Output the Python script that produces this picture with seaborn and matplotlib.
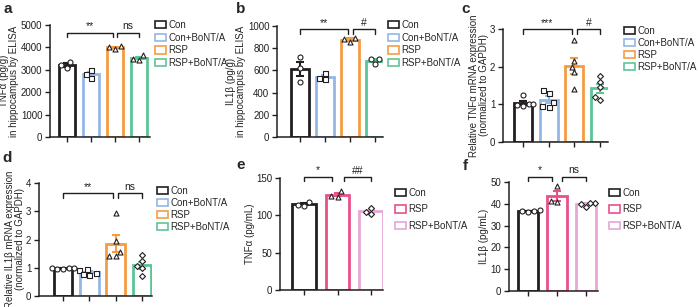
import numpy as np
import pandas as pd
import seaborn as sns
import matplotlib
matplotlib.use("Agg")
import matplotlib.pyplot as plt
from matplotlib.patches import Patch

groups4 = ['Con', 'Con+BoNT/A', 'RSP', 'RSP+BoNT/A']
groups3 = ['Con', 'RSP', 'RSP+BoNT/A']
colors4 = ['#231f20', '#93b8e6', '#f59c43', '#5cc597']
colors3 = ['#231f20', '#e8508a', '#e6a7d6']

# panel a: TNFa ELISA (pg/g)
a_vals = [[3100, 3350, 3200], [3000, 2800, 2650], [3950, 4050, 4000], [3450, 3650, 3500]]
# panel b: IL1b ELISA (pg/g)
b_vals = [[720, 620, 500], [520, 580, 535], [860, 890, 885], [700, 660, 700]]
# panel c: TNFa mRNA
c_vals = [[1.25, 1.0, 0.97, 0.95, 1.0], [1.38, 1.3, 0.95, 0.92, 1.05],
          [2.7, 2.15, 2.0, 1.85, 1.4], [1.75, 1.6, 1.45, 1.2, 1.12]]
# panel d: IL1b mRNA
d_vals = [[1.0, 0.98, 0.97, 1.0, 0.95], [0.95, 0.93, 0.78, 0.75, 0.8],
          [2.95, 1.95, 1.55, 1.4, 1.4], [1.45, 1.25, 1.05, 1.0, 0.7]]
# panel e: TNFa (pg/mL)
e_vals = [[118, 114, 113], [132, 125, 126], [110, 102, 104]]
# panel f: IL1b (pg/mL)
f_vals = [[36.4, 36.8, 37.0, 36.9], [48, 41, 41.5], [40.5, 39.8, 38.5, 40.3]]

sns.set_style('ticks')
plt.rcParams['font.family'] = ['Liberation Sans', 'DejaVu Sans']
plt.rcParams['font.size'] = 7
dark = '#231f20'

W, H = 698, 307
fig = plt.figure(figsize=(W / 100, H / 100), dpi=100)


def place(left, right, zero, top):
    return [left / W, 1 - zero / H, (right - left) / W, (zero - top) / H]


def bracket(ax, x1, x2, yf, text):
    y0, y1 = ax.get_ylim()
    y = y1 * yf
    h = (y1 - y0) * 0.04
    ax.plot([x1, x1, x2, x2], [y - h, y, y, y - h], color=dark, lw=1, clip_on=False)
    ax.text((x1 + x2) / 2, y + h * 0.3, text, ha='center', va='bottom',
            fontsize=7.5, color=dark)


def panel(rect, groups, colors, vals, markers, yticks, ylabel, xlim, letter,
          letter_xy, leg_xy, leg_space, brackets):
    ax = fig.add_axes(place(*rect))
    df = pd.DataFrame({'group': [g for g, v in zip(groups, vals) for _ in v],
                       'value': [x for v in vals for x in v]})
    pal = dict(zip(groups, colors))
    sns.barplot(data=df, x='group', y='value', hue='group', order=groups,
                palette=pal, fill=False, errorbar=None, width=0.7,
                linewidth=2, legend=False, ax=ax)
    stats = df.groupby('group')['value'].agg(['mean', 'sem'])
    for i, g in enumerate(groups):
        ax.errorbar(i, stats.loc[g, 'mean'], yerr=stats.loc[g, 'sem'], fmt='none',
                    ecolor=pal[g], elinewidth=1.5, capsize=3, capthick=1.5, zorder=3)
    for g, m in zip(groups, markers):
        sns.swarmplot(data=df[df['group'] == g], x='group', y='value', order=groups,
                      marker=m, size=3.6 if m != 'D' else 3, color='white',
                      edgecolor=dark, linewidth=0.8, ax=ax, zorder=4, warn_thresh=1)
    ax.set_ylim(yticks[0], yticks[-1])
    ax.set_yticks(yticks)
    ax.set_xlim(*xlim)
    ax.set_xticks(range(len(groups)))
    ax.set_xticklabels([])
    ax.set_xlabel('')
    ax.set_ylabel(ylabel, fontsize=7, labelpad=1, linespacing=1.0)
    ax.tick_params(length=3.5, width=1, colors=dark, labelsize=7, pad=2)
    for s in ['left', 'bottom']:
        ax.spines[s].set_linewidth(1.1)
        ax.spines[s].set_color(dark)
    sns.despine(ax=ax)
    for x1, x2, yf, t in brackets:
        bracket(ax, x1, x2, yf, t)
    fig.text(letter_xy[0] / W, 1 - letter_xy[1] / H, letter, fontsize=11,
             fontweight='bold', ha='left', va='top')
    handles = [Patch(facecolor='white', edgecolor=c, linewidth=1.2) for c in colors]
    ax.legend(handles, groups, loc='upper left',
              bbox_to_anchor=(leg_xy[0] / W, 1 - leg_xy[1] / H),
              bbox_transform=fig.transFigure, frameon=False, handlelength=1.1,
              handleheight=0.8, handletextpad=0.25, labelspacing=leg_space,
              borderpad=0, borderaxespad=0, fontsize=7)
    return ax


panel((50, 150, 137, 25), groups4, colors4, a_vals, ['o', 's', '^', '^'],
      [0, 1000, 2000, 3000, 4000, 5000], 'TNFα (pg/g)\nin hippocampus by ELISA',
      (-0.71, 3.46), 'a', (3, 2), (155, 20), 0.27,
      [(0, 1.9, 0.93, '**'), (2.1, 3, 0.93, 'ns')])
panel((277, 383, 137, 26), groups4, colors4, b_vals, ['o', 's', '^', 'o'],
      [0, 200, 400, 600, 800, 1000], 'IL1β (pg/g)\nin hippocampus by ELISA',
      (-0.92, 3.32), 'b', (236, 2), (388, 20), 0.27,
      [(0, 1.9, 0.97, '**'), (2.1, 3, 0.97, '#')])
panel((503, 608, 142, 29), groups4, colors4, c_vals, ['o', 's', '^', 'D'],
      [0, 1, 2, 3], 'Relative TNFα mRNA expression\n(normalized to GAPDH)',
      (-0.78, 3.31), 'c', (461, 2), (624, 26), 0.2,
      [(0, 1.9, 1.0, '***'), (2.1, 3, 1.0, '#')])
panel((39, 152, 296, 183), groups4, colors4, d_vals, ['o', 's', '^', 'D'],
      [0, 1, 2, 3, 4], 'Relative IL1β mRNA expression\n(normalized to GAPDH)',
      (-0.91, 3.38), 'd', (2, 151), (157, 186), 0.2,
      [(0, 1.9, 0.91, '**'), (2.1, 3, 0.91, 'ns')])
panel((280, 383, 290, 178), groups3, colors3, e_vals, ['o', '^', 'D'],
      [0, 50, 100, 150], 'TNFα (pg/mL)',
      (-0.72, 2.36), 'e', (236, 158), (395, 188), 0.65,
      [(0, 0.82, 1.01, '*'), (1.18, 2, 1.01, '##')])
panel((509, 598, 291, 182), groups3, colors3, f_vals, ['o', '^', 'D'],
      [0, 10, 20, 30, 40, 50], 'IL1β (pg/mL)',
      (-0.66, 2.41), 'f', (463, 159), (609, 188), 0.65,
      [(0, 0.82, 1.05, '*'), (1.18, 2, 1.05, 'ns')])

fig.savefig('out.png', dpi=100)
